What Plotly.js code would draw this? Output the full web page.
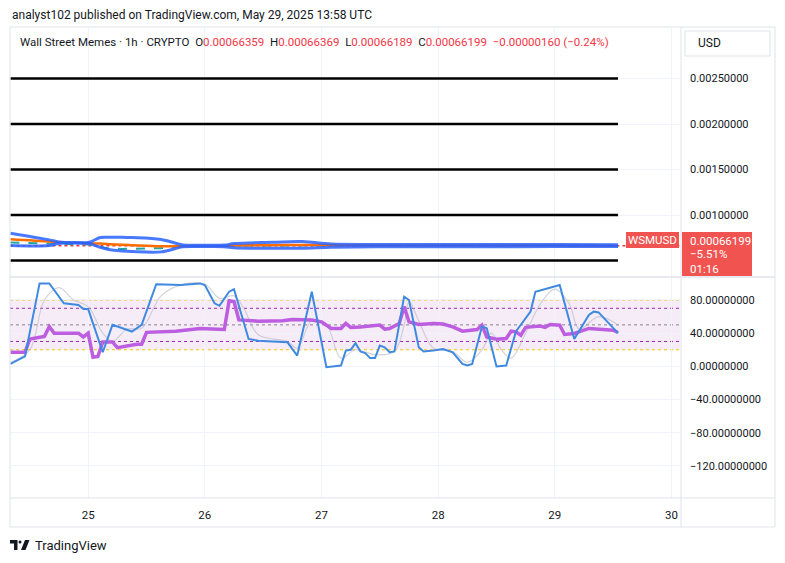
<!DOCTYPE html>
<html>
<head>
<meta charset="utf-8">
<script src="https://cdn.plot.ly/plotly-3.0.1.min.js"></script>
<style>html,body{margin:0;padding:0;background:#fff;}#chart{width:785px;height:563px;}</style>
</head>
<body>
<div id="chart"></div>
<script>
// ---------- DATA ----------
// Main pane (price, WSMUSD 1h)
const bandTime = ["2025-05-24 08:00","2025-05-24 16:00","2025-05-24 18:00","2025-05-25 00:00","2025-05-25 02:30","2025-05-25 04:30","2025-05-25 07:00","2025-05-25 09:00","2025-05-25 15:00","2025-05-25 19:30","2025-05-25 23:00","2025-05-26 04:00","2025-05-26 06:00","2025-05-26 14:00","2025-05-26 20:00","2025-05-27 02:00","2025-05-27 12:00","2025-05-28 00:00","2025-05-28 12:00","2025-05-29 00:00","2025-05-29 13:00"];
const bandUpper = [0.000800,0.000727,0.000705,0.000698,0.000753,0.000756,0.000756,0.000752,0.000731,0.000672,0.000668,0.000670,0.000686,0.000700,0.000708,0.000681,0.000677,0.000676,0.000676,0.000675,0.000673];
const bandLower = [0.000665,0.000665,0.000687,0.000687,0.000645,0.000618,0.000606,0.000600,0.000595,0.000650,0.000653,0.000652,0.000640,0.000634,0.000636,0.000646,0.000651,0.000652,0.000652,0.000653,0.000654];
const maOrange  = [0.000734,0.000709,0.000700,0.000690,0.000686,0.000680,0.000672,0.000668,0.000656,0.000658,0.000660,0.000661,0.000664,0.000668,0.000671,0.000668,0.000666,0.000665,0.000665,0.000664,0.000663];
const maTeal    = [0.000698,0.000690,0.000688,0.000676,0.000650,0.000629,0.000628,0.000628,0.000635,0.000655,0.000660,0.000660,0.000663,0.000666,0.000668,0.000667,0.000665,0.000664,0.000664,0.000663,0.000662];
const levelLines = [0.0025, 0.002, 0.0015, 0.001, 0.0005];
const levelSpan = ["2025-05-24 08:00","2025-05-29 13:00"];
const lastPrice = 0.00066199;
const priceTicks = [0.0025, 0.002, 0.0015, 0.001];

// Oscillator pane
const kTime = ["2025-05-24 08:00","2025-05-24 11:00","2025-05-24 14:00","2025-05-24 16:00","2025-05-24 19:00","2025-05-24 22:00","2025-05-24 23:00","2025-05-25 00:00","2025-05-25 03:00","2025-05-25 05:00","2025-05-25 09:00","2025-05-25 11:00","2025-05-25 14:00","2025-05-25 19:00","2025-05-25 23:00","2025-05-26 00:00","2025-05-26 02:00","2025-05-26 03:00","2025-05-26 05:00","2025-05-26 06:00","2025-05-26 09:00","2025-05-26 11:00","2025-05-26 17:00","2025-05-26 19:00","2025-05-26 22:00","2025-05-27 01:00","2025-05-27 04:00","2025-05-27 05:00","2025-05-27 06:00","2025-05-27 07:00","2025-05-27 08:00","2025-05-27 09:00","2025-05-27 10:00","2025-05-27 11:00","2025-05-27 12:00","2025-05-27 13:00","2025-05-27 14:00","2025-05-27 15:00","2025-05-27 17:00","2025-05-27 18:00","2025-05-27 20:00","2025-05-27 21:00","2025-05-27 23:00","2025-05-28 01:00","2025-05-28 03:00","2025-05-28 05:00","2025-05-28 06:00","2025-05-28 07:00","2025-05-28 09:00","2025-05-28 10:00","2025-05-28 12:00","2025-05-28 14:00","2025-05-28 16:00","2025-05-28 19:00","2025-05-28 20:00","2025-05-28 22:00","2025-05-28 23:00","2025-05-29 01:00","2025-05-29 04:00","2025-05-29 07:00","2025-05-29 08:00","2025-05-29 09:00","2025-05-29 13:00"];
const kValue = [3,12,100,100,76,74,69,69,17,50,42,50,99,98,100,98,76,73,90,93,33,31,29,13,90,-1,1,19,20,28,18,16,10,10,25,23,17,18,84,80,23,18,19,21,17,3,1,3,48,46,0,1,42,66,90,93,95,98,33,62,66,65,40];

const dTime = ["2025-05-24 08:00","2025-05-24 12:00","2025-05-24 15:00","2025-05-24 18:00","2025-05-24 21:00","2025-05-25 00:00","2025-05-25 03:00","2025-05-25 05:00","2025-05-25 08:00","2025-05-25 11:00","2025-05-25 15:00","2025-05-25 19:00","2025-05-26 00:00","2025-05-26 03:00","2025-05-26 06:00","2025-05-26 08:00","2025-05-26 11:00","2025-05-26 17:00","2025-05-26 19:00","2025-05-26 22:00","2025-05-27 01:00","2025-05-27 04:00","2025-05-27 07:00","2025-05-27 11:00","2025-05-27 15:00","2025-05-27 17:00","2025-05-27 18:00","2025-05-27 20:00","2025-05-27 23:00","2025-05-28 03:00","2025-05-28 06:00","2025-05-28 09:00","2025-05-28 11:00","2025-05-28 13:00","2025-05-28 15:00","2025-05-28 18:00","2025-05-28 21:00","2025-05-29 00:00","2025-05-29 03:00","2025-05-29 05:00","2025-05-29 09:00","2025-05-29 13:00"];
const dValue = [5,20,80,95,80,72,40,30,45,46,85,98,99,82,85,70,38,30,22,55,50,10,20,14,18,50,78,55,22,18,5,20,40,20,10,40,75,93,75,45,60,50];

const rsiTime = ["2025-05-24 08:00","2025-05-24 11:00","2025-05-24 12:00","2025-05-24 15:00","2025-05-24 16:00","2025-05-24 17:00","2025-05-24 22:00","2025-05-24 23:00","2025-05-25 00:00","2025-05-25 01:00","2025-05-25 02:00","2025-05-25 03:00","2025-05-25 05:00","2025-05-25 06:00","2025-05-25 10:00","2025-05-25 11:00","2025-05-25 12:00","2025-05-25 18:00","2025-05-25 23:00","2025-05-26 04:00","2025-05-26 05:00","2025-05-26 06:00","2025-05-26 07:00","2025-05-26 11:00","2025-05-26 16:00","2025-05-26 18:00","2025-05-26 22:00","2025-05-27 00:00","2025-05-27 02:00","2025-05-27 04:00","2025-05-27 05:00","2025-05-27 06:00","2025-05-27 08:00","2025-05-27 12:00","2025-05-27 13:00","2025-05-27 14:00","2025-05-27 16:00","2025-05-27 17:00","2025-05-27 18:00","2025-05-27 20:00","2025-05-27 23:00","2025-05-28 01:00","2025-05-28 03:00","2025-05-28 05:00","2025-05-28 08:00","2025-05-28 09:00","2025-05-28 10:00","2025-05-28 12:00","2025-05-28 14:00","2025-05-28 15:00","2025-05-28 16:00","2025-05-28 17:00","2025-05-28 18:00","2025-05-28 21:00","2025-05-28 22:00","2025-05-28 23:00","2025-05-29 01:00","2025-05-29 02:00","2025-05-29 04:00","2025-05-29 07:00","2025-05-29 10:00","2025-05-29 12:00","2025-05-29 13:00"];
const rsiValue = [17,17,33,36,48,40,40,35.5,40,11,12,29.5,29.5,22.6,26.7,26.7,41,42.4,45.7,44.4,79,78,56,54.5,55,56.6,56,53.7,45.7,45.7,51.7,47,47.6,49.7,44.8,45.7,51.7,72,53.7,50.5,51.7,51,47.6,42.4,44.4,49.7,35.5,32.7,33.5,42.4,41.6,37.6,47,48.5,47,50.5,49.7,38.4,39.6,45.7,44.4,43.6,40.8];

const bandLimits = [20, 80];
const innerLevels = [30, 70];
const midLevel = 50;
const oscTicks = [80, 40, 0, -40, -80, -120];

// ---------- LAYOUT HELPERS (pixel -> paper) ----------
const PX = x => (x - 10) / 670;
const PY = y => (498 - y) / 470;
const split = PY(277);

const red = '#f23645';
const txt = '#131722';
const FONT = 'Roboto, "Liberation Sans", sans-serif';

const traces = [];
levelLines.forEach(v => traces.push({x: levelSpan, y: [v, v], xaxis: 'x', yaxis: 'y', mode: 'lines', line: {color: '#000000', width: 2.5}}));
traces.push({x: [bandTime[0], '2025-05-30 02:00'], y: [lastPrice, lastPrice], yaxis: 'y', mode: 'lines', line: {color: red, width: 1.5, dash: 'dot'}});
traces.push({x: bandTime, y: maTeal, yaxis: 'y', mode: 'lines', line: {color: '#26a69a', width: 2, dash: 'dash'}});
traces.push({x: bandTime, y: maOrange, yaxis: 'y', mode: 'lines', line: {color: '#ff6d00', width: 2.5, shape: 'spline'}});
traces.push({x: bandTime, y: bandUpper, yaxis: 'y', mode: 'lines', line: {color: 'rgba(41,98,255,0.85)', width: 3, shape: 'spline'}});
traces.push({x: bandTime, y: bandLower, yaxis: 'y', mode: 'lines', line: {color: 'rgba(41,98,255,0.85)', width: 3, shape: 'spline'}});
traces.push({x: dTime, y: dValue, yaxis: 'y2', mode: 'lines', line: {color: 'rgba(180,184,196,0.6)', width: 1.2, shape: 'spline'}});
traces.push({x: rsiTime, y: rsiValue, yaxis: 'y2', mode: 'lines', line: {color: '#bd5ee0', width: 3.5}});
traces.push({x: kTime, y: kValue, yaxis: 'y2', mode: 'lines', line: {color: '#3f8ae0', width: 2}});
traces.forEach(t => { t.showlegend = false; t.hoverinfo = 'skip'; });

const border = '#e0e3eb';
const shapes = [
  {type: 'rect', xref: 'paper', yref: 'y2', x0: 0, x1: 1, y0: bandLimits[0], y1: bandLimits[1], fillcolor: 'rgba(156,39,176,0.09)', line: {width: 0}, layer: 'below'},
  ...bandLimits.map(v => ({type: 'line', xref: 'paper', yref: 'y2', x0: 0, x1: 1, y0: v, y1: v, line: {color: '#f0c800', width: 1, dash: 'dot'}, layer: 'below'})),
  ...innerLevels.map(v => ({type: 'line', xref: 'paper', yref: 'y2', x0: 0, x1: 1, y0: v, y1: v, line: {color: '#9c27b0', width: 1, dash: 'dot'}, layer: 'below'})),
  {type: 'line', xref: 'paper', yref: 'y2', x0: 0, x1: 1, y0: midLevel, y1: midLevel, line: {color: '#8a7d92', width: 1, dash: 'dot'}, layer: 'below'},
  {type: 'rect', xref: 'paper', yref: 'paper', x0: PX(10), x1: PX(775), y0: PY(527), y1: PY(27), line: {color: border, width: 1}},
  {type: 'line', xref: 'paper', yref: 'paper', x0: PX(681), x1: PX(681), y0: PY(527), y1: PY(27), line: {color: border, width: 1}},
  {type: 'line', xref: 'paper', yref: 'paper', x0: PX(10), x1: PX(775), y0: PY(498), y1: PY(498), line: {color: border, width: 1}},
  {type: 'line', xref: 'paper', yref: 'paper', x0: PX(10), x1: PX(775), y0: split, y1: split, line: {color: border, width: 1.5}},
  {type: 'rect', xref: 'paper', yref: 'paper', x0: PX(685), x1: PX(770), y0: PY(56), y1: PY(31), line: {color: border, width: 1}, fillcolor: '#ffffff'},
  {type: 'rect', xref: 'paper', yref: 'paper', x0: PX(626), x1: PX(679), y0: PY(248), y1: PY(232), line: {width: 0}, fillcolor: '#f05350'},
  {type: 'rect', xref: 'paper', yref: 'paper', x0: PX(682), x1: PX(752), y0: PY(276), y1: PY(232), line: {width: 0}, fillcolor: '#f05350'},
  {type: 'path', xref: 'paper', yref: 'paper', path: `M ${PX(10)},${PY(540)} L ${PX(17.5)},${PY(540)} L ${PX(17.5)},${PY(550)} L ${PX(14)},${PY(550)} L ${PX(14)},${PY(543.5)} L ${PX(10)},${PY(543.5)} Z`, fillcolor: '#131722', line: {width: 0}},
  {type: 'circle', xref: 'paper', yref: 'paper', x0: PX(18.5), x1: PX(21.5), y0: PY(543.5), y1: PY(540.5), fillcolor: '#131722', line: {width: 0}},
  {type: 'path', xref: 'paper', yref: 'paper', path: `M ${PX(25)},${PY(540)} L ${PX(29.5)},${PY(540)} L ${PX(25.5)},${PY(550)} L ${PX(21)},${PY(550)} Z`, fillcolor: '#131722', line: {width: 0}}
];

const sp = '\u00a0';
const r = s => `<span style="color:${red}">${s}</span>`;
const header = `Wall Street Memes · 1h · CRYPTO${sp}${sp}O${r('0.00066359')}${sp}${sp}H${r('0.00066369')}${sp}${sp}L${r('0.00066189')}${sp}${sp}C${r('0.00066199')}${sp}${sp}${r('\u22120.00000160 (\u22120.24%)')}`;

const ann = (x, y, text, opts = {}) => Object.assign({xref: 'paper', yref: 'paper', x: PX(x), y: PY(y), text, showarrow: false, xanchor: 'left', yanchor: 'middle', font: {family: FONT, size: 12, color: txt}}, opts);
const annotations = [
  ann(10, 15, 'analyst102 published on TradingView.com, May 29, 2025 13:58 UTC', {font: {family: FONT, size: 12, color: txt}}),
  ann(18, 42, header, {font: {family: FONT, size: 11.5, color: txt}}),
  ann(696, 43, 'USD', {font: {family: FONT, size: 12, color: txt}}),
  ann(652.5, 240, 'WSMUSD', {xanchor: 'center', font: {family: FONT, size: 11.5, color: '#ffffff'}}),
  ann(688, 240.5, '0.00066199', {font: {family: FONT, size: 11.5, color: '#ffffff'}}),
  ann(688, 254.5, '\u22125.51%', {font: {family: FONT, size: 11.5, color: '#ffffff'}}),
  ann(688, 269, '01:16', {font: {family: FONT, size: 11.5, color: '#ffffff'}}),
  ann(33, 545, 'TradingView', {font: {family: FONT, size: 13, color: txt}})
];

const layout = {
  width: 785, height: 563,
  margin: {l: 10, r: 105, t: 28, b: 65, pad: 0},
  paper_bgcolor: '#ffffff', plot_bgcolor: '#ffffff',
  font: {family: FONT, size: 11, color: txt},
  showlegend: false,
  xaxis: {
    type: 'date', anchor: 'y2', domain: [0, 1],
    range: ['2025-05-24 07:55', '2025-05-30 01:45'],
    tick0: '2025-05-25', dtick: 86400000, tickformat: '%-d',
    showgrid: true, gridcolor: '#f0f3fa', gridwidth: 1,
    zeroline: false, showline: false, ticks: '', ticklabelstandoff: 8,
    tickfont: {family: FONT, size: 11.5, color: txt}
  },
  yaxis: {
    domain: [split, 1], anchor: 'x', side: 'right',
    range: [0.000319, 0.003055],
    tickvals: priceTicks, tickformat: '.8f',
    showgrid: true, gridcolor: '#f0f3fa', zeroline: false, showline: false, ticks: '',
    ticklabelstandoff: 9, tickfont: {family: FONT, size: 11, color: txt}
  },
  yaxis2: {
    domain: [0, split], anchor: 'x', side: 'right',
    range: [-158.6, 107.7],
    tickvals: oscTicks, tickformat: '.8f',
    showgrid: true, gridcolor: '#f0f3fa', zeroline: false, showline: false, ticks: '',
    ticklabelstandoff: 9, tickfont: {family: FONT, size: 11, color: txt}
  },
  shapes, annotations
};

Plotly.newPlot('chart', traces, layout, {displayModeBar: false, staticPlot: true});
</script>
</body>
</html>
